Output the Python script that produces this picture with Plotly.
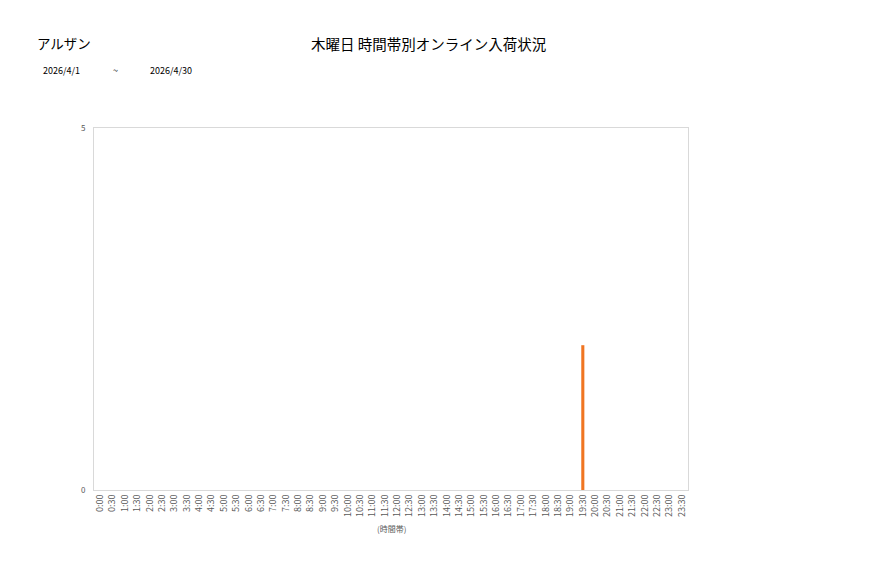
import plotly.graph_objects as go

# 時間帯 (0:00 .. 23:30, 30-minute slots)
time_slots = [f"{h}:{m:02d}" for h in range(24) for m in (0, 30)]
arrivals = [0] * 48
arrivals[time_slots.index("19:30")] = 2

store_name = "アルザン"
chart_title = "木曜日 時間帯別オンライン入荷状況"
date_from = "2026/4/1"
date_to = "2026/4/30"

FONT = "Noto Sans CJK JP"
OFF = 8  # page body margin in the browser

# plot area in screen pixels
L, R, T, B = 94, 688, 128, 490

fig = go.Figure(go.Bar(
    x=time_slots, y=arrivals,
    marker_color="#F07522", marker_line_width=0,
    width=0.25,
))

fig.update_layout(
    width=877, height=578,
    plot_bgcolor="white", paper_bgcolor="white",
    margin=dict(l=L - OFF, r=877 - (R - OFF), t=T - OFF, b=578 - (B - OFF)),
    showlegend=False,
    font=dict(family=FONT, color="#595959"),
)


def px(x):
    return (x - L) / (R - L)


def py(y):
    return (B - y) / (B - T)


def label(text, x, y, size, color="#000000", anchor="left"):
    fig.add_annotation(text=text, x=px(x), y=py(y), xref="paper", yref="paper",
                       xanchor=anchor, yanchor="middle", showarrow=False,
                       font=dict(size=size, color=color, family=FONT))


label(store_name, 35, 43, 13.5)
label(chart_title, 428, 43, 14.5, anchor="center")
label(date_from, 41, 70, 9)
label("~", 115, 70, 9, anchor="center")
label(date_to, 148, 70, 9)
label("(時間帯)", 391, 528, 8, color="#595959", anchor="center")

fig.update_xaxes(
    type="category", tickangle=-90, tickfont=dict(size=9, color="#595959"),
    showline=True, linecolor="#D9D9D9", mirror=True, showgrid=False,
    ticks="", ticklen=0,
)
fig.update_yaxes(
    range=[0, 5], tickvals=[0, 5], tickfont=dict(size=8, color="#595959"),
    showline=True, linecolor="#D9D9D9", mirror=True, showgrid=False,
    zeroline=False, ticks="outside", ticklen=6, tickcolor="white",
)

fig.write_html("out.html")
